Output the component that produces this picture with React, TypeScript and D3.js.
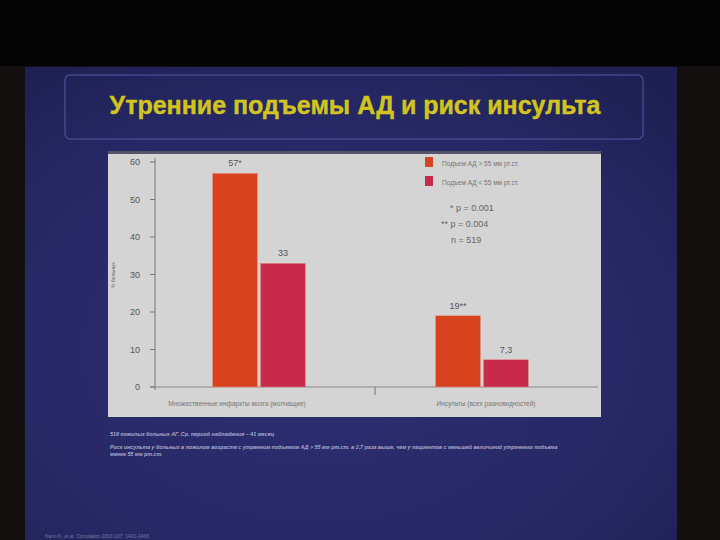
import React from "react";
import * as d3 from "d3";

const categories = ["Множественные инфаркты мозга (молчащие)", "Инсульты (всех разновидностей)"];
const seriesNames = ["Подъем АД > 55 мм рт.ст.", "Подъем АД < 55 мм рт.ст."];
const highValues = [57, 19];
const lowValues = [33, 7.3];
const valueLabels = [["57*", "33"], ["19**", "7,3"]];
const yTicks = [0, 10, 20, 30, 40, 50, 60];
const statsLines = ["* p = 0.001", "** p = 0.004", "n = 519"];
const footLines = [
  "519 пожилых больных АГ. Ср. период наблюдения – 41 месяц",
  "Риск инсульта у больных в пожилом возрасте с утренним подъемом АД > 55 мм рт.ст. в 2,7 раза выше, чем у пациентов с меньшей величиной утреннего подъема",
  "менее 55 мм рт.ст.",
];
const title = "Утренние подъемы АД и риск инсульта";
const citation = "Kario K. et al. Circulation 2003;107: 1401-1406";

const colors = ["#d8421e", "#c82a4c"];

export default function App() {
  const W = 720, H = 540;
  const x0 = d3.scaleBand<string>().domain(categories).range([155, 595]);
  const x1 = d3.scaleBand<number>().domain([0, 1]).range([0, 93]).paddingInner(0.06);
  const y = d3.scaleLinear().domain([0, 60]).range([387, 162]);
  const font = "Liberation Sans, Arial, sans-serif";
  const labelX = [237, 486];
  return (
    <svg width={W} height={H} style={{ position: "absolute", left: 0, top: 0, display: "block" }}>
      <defs>
        <radialGradient id="bg" cx="0.45" cy="0.6" r="0.75">
          <stop offset="0" stopColor="#2c2e72" />
          <stop offset="0.7" stopColor="#262864" />
          <stop offset="1" stopColor="#1e1f52" />
        </radialGradient>
      </defs>
      <rect x={0} y={0} width={W} height={H} fill="#130f0e" />
      <rect x={0} y={0} width={W} height={66} fill="#050505" />
      <rect x={25} y={67} width={652} height={473} fill="url(#bg)" />
      <rect x={65} y={75} width={578} height={64} rx={5} fill="none" stroke="#4c509a" strokeWidth={1.5} opacity={0.8} />
      <text x={355} y={114} textAnchor="middle" fontFamily={font} fontWeight="bold" fontSize={25} fill="#d2c41e" stroke="#d2c41e" strokeWidth={0.4}>
        {title}
      </text>
      <rect x={108} y={151} width={493} height={266} fill="#d4d4d4" />
      <rect x={108} y={151} width={493} height={3} fill="#55556a" />
      {/* axes */}
      <line x1={155} x2={155} y1={158} y2={390} stroke="#777" strokeWidth={1} />
      <line x1={150} x2={598} y1={387} y2={387} stroke="#888" strokeWidth={1} />
      <line x1={375} x2={375} y1={387} y2={395} stroke="#777" />
      {yTicks.map((t) => (
        <g key={t}>
          <line x1={150} x2={155} y1={y(t)} y2={y(t)} stroke="#777" />
          <text x={140} y={y(t) + 3} textAnchor="end" fontFamily={font} fontSize={9} fill="#555">
            {t}
          </text>
        </g>
      ))}
      <text transform="translate(115,275) rotate(-90)" textAnchor="middle" fontFamily={font} fontSize={5} fill="#666">
        % больных
      </text>
      {categories.map((c, i) => {
        const base = (x0(c) as number) + (x0.bandwidth() - 93) / 2 - 6 + i * 3;
        const vals = [highValues[i], lowValues[i]];
        return (
          <g key={c}>
            {vals.map((v, j) => (
              <g key={j}>
                <rect
                  x={base + (x1(j) as number)}
                  y={y(v)}
                  width={x1.bandwidth()}
                  height={y(0) - y(v)}
                  fill={colors[j]}
                  stroke="#e8a090"
                  strokeWidth={0.5}
                />
                <text
                  x={base + (x1(j) as number) + x1.bandwidth() / 2}
                  y={y(v) - 7}
                  textAnchor="middle"
                  fontFamily={font}
                  fontSize={9}
                  fill="#555"
                >
                  {valueLabels[i][j]}
                </text>
              </g>
            ))}
            <text x={labelX[i]} y={406} textAnchor="middle" fontFamily={font} fontSize={6.5} fill="#777">
              {c}
            </text>
          </g>
        );
      })}
      {seriesNames.map((s, j) => (
        <g key={s}>
          <rect x={425} y={157 + j * 19} width={8} height={10} fill={colors[j]} />
          <text x={442} y={166 + j * 19} fontFamily={font} fontSize={6.5} fill="#777">
            {s}
          </text>
        </g>
      ))}
      {statsLines.map((s, k) => (
        <text key={s} x={[450, 441, 451][k]} y={211 + k * 16} fontFamily={font} fontSize={9} fill="#666">
          {s}
        </text>
      ))}
      {footLines.map((s, k) => (
        <text key={k} x={110} y={[436, 449, 456][k]} fontFamily={font} fontStyle="italic" fontWeight="bold" fontSize={5.3} fill="#c8c8e0" opacity={0.8}>
          {s}
        </text>
      ))}
      <text x={45} y={538} fontFamily={font} fontSize={5} fill="#9a9ab0" opacity={0.7}>
        {citation}
      </text>
    </svg>
  );
}
